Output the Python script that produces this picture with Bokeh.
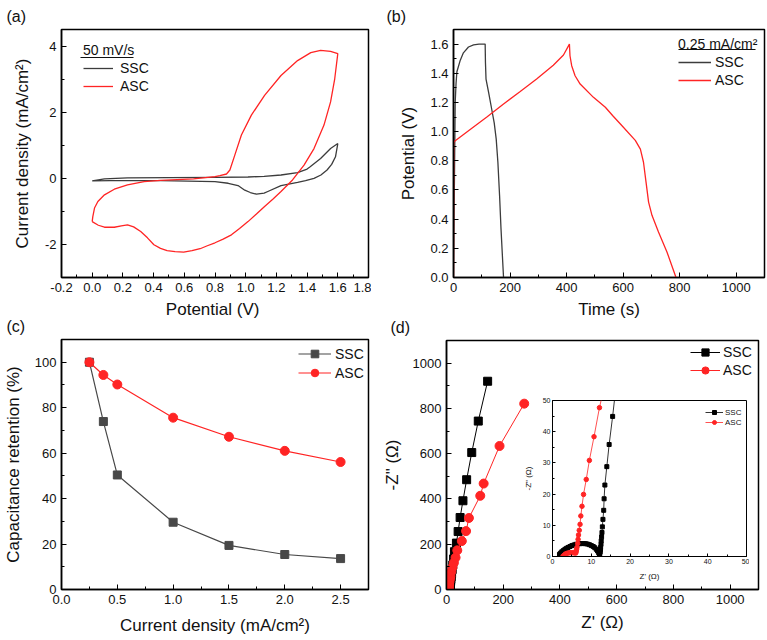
from bokeh.plotting import figure
from bokeh.models import (Range1d, FixedTicker, NumeralTickFormatter, Legend, LegendItem,
                          BoxAnnotation, GridBox)
from bokeh.embed import file_html
from bokeh.resources import INLINE

FONT = "Liberation Sans"
RED = "#ff2424"
GREY = "#3c3c3c"
INK = "#111111"

# ---------------- (a) cyclic voltammetry, 50 mV/s ----------------
cv_ssc_v = [0.00, 0.08, 0.23, 0.50, 0.80, 1.015, 1.12, 1.23, 1.338, 1.40, 1.42, 1.488, 1.553, 1.60,
            1.585, 1.56, 1.53, 1.49, 1.445, 1.39, 1.338, 1.23, 1.144, 1.12, 1.07, 1.03, 0.994, 0.95,
            0.886, 0.80, 0.445, 0.12, 0.00]
cv_ssc_j = [-0.08, -0.02, 0.01, 0.02, 0.03, 0.04, 0.06, 0.10, 0.17, 0.28, 0.35, 0.60, 0.90, 1.05,
            0.65, 0.42, 0.25, 0.10, 0.00, -0.07, -0.12, -0.22, -0.40, -0.45, -0.48, -0.43, -0.36, -0.22,
            -0.15, -0.10, -0.07, -0.07, -0.08]
cv_asc_v = [0.00, 0.04, 0.08, 0.144, 0.19, 0.23, 0.27, 0.316, 0.36, 0.402, 0.445, 0.488, 0.54, 0.596,
            0.65, 0.703, 0.75, 0.80, 0.853, 0.907, 0.96, 1.015, 1.07, 1.123, 1.18, 1.23, 1.305, 1.38,
            1.445, 1.51, 1.553, 1.58, 1.60,
            1.553, 1.488, 1.424, 1.338, 1.23, 1.123, 1.037, 0.972, 0.929, 0.897, 0.875, 0.832, 0.80,
            0.66, 0.445, 0.338, 0.23, 0.144, 0.08, 0.037, 0.015, 0.004, 0.00]
cv_asc_j = [-1.31, -1.42, -1.48, -1.48, -1.44, -1.41, -1.47, -1.61, -1.80, -2.01, -2.12, -2.19, -2.22, -2.23,
            -2.19, -2.13, -2.04, -1.95, -1.84, -1.71, -1.52, -1.31, -1.08, -0.85, -0.62, -0.40, -0.05, 0.40,
            0.90, 1.61, 2.31, 3.01, 3.77,
            3.84, 3.87, 3.80, 3.56, 3.11, 2.51, 1.91, 1.31, 0.70, 0.25, 0.13, 0.08, 0.05,
            -0.02, -0.06, -0.10, -0.20, -0.33, -0.50, -0.70, -0.90, -1.16, -1.31]

# ---------------- (b) galvanostatic charge/discharge, 0.25 mA/cm2 ----------------
gcd_ssc_t = [0, 3, 6, 9, 12, 24, 35, 53, 71, 90, 112, 113, 115, 124, 135, 144, 151, 157, 163, 168, 174, 177]
gcd_ssc_v = [0.0, 0.6, 1.2, 1.33, 1.41, 1.49, 1.54, 1.58, 1.595, 1.60, 1.60, 1.475, 1.36, 1.27, 1.155,
             1.06, 0.95, 0.79, 0.56, 0.335, 0.11, 0.0]
gcd_asc_t = [0, 1, 5, 59, 118, 177, 236, 294, 353, 389, 410, 412, 418, 430, 448, 495, 537, 565, 596,
             643, 661, 672, 681, 690, 702, 725, 755, 787]
gcd_asc_v = [0.0, 0.93, 0.935, 1.015, 1.10, 1.19, 1.275, 1.36, 1.455, 1.525, 1.60, 1.52, 1.452, 1.383,
             1.326, 1.235, 1.167, 1.105, 1.04, 0.94, 0.88, 0.79, 0.654, 0.517, 0.426, 0.312, 0.175, 0.0]

# ---------------- (c) rate capability ----------------
current_density = [0.25, 0.375, 0.5, 1.0, 1.5, 2.0, 2.5]
retention_ssc = [100, 73.9, 50.4, 29.6, 19.4, 15.4, 13.6]
retention_asc = [100, 94.4, 90.2, 75.6, 67.2, 61.0, 56.1]

# ---------------- (d) Nyquist plots ----------------
z_re_ssc = [1.8, 2.1, 2.4, 2.8, 3.2, 3.6, 4.0, 4.5, 5.0, 5.5, 6.0, 6.5, 7.0, 7.5, 8.0, 8.5, 9.0, 9.5,
            10.0, 10.5, 10.9, 11.3, 11.6, 11.9, 12.1,
            12.2, 12.3, 12.35, 12.4, 12.5, 12.55, 12.65, 12.75, 12.85, 13.0, 13.2, 13.3, 13.5, 14.0,
            14.6, 15.5, 16.5, 18.0, 20.0, 22.0, 25, 28, 35, 41, 48, 58, 71, 89, 112, 145]
z_im_ssc = [0.7, 1.1, 1.5, 1.9, 2.3, 2.6, 2.9, 3.2, 3.5, 3.7, 3.9, 4.0, 4.1, 4.15, 4.15, 4.1, 4.0, 3.8,
            3.5, 3.2, 2.8, 2.3, 1.8, 1.2, 0.6,
            0.9, 1.5, 2.2, 2.9, 3.9, 5.0, 6.3, 7.7, 9.5, 11.9, 14.8, 18.5, 22.9, 28.8,
            35.9, 44.9, 56, 70, 88, 108, 135, 167, 205, 256, 318, 392, 485, 605, 744, 920]
z_re_asc = [2.7, 3.0, 3.3, 3.7, 4.1, 4.5, 4.9, 5.3, 5.7, 6.0, 6.1, 6.2, 6.3, 6.5, 6.6, 6.7, 6.9, 7.1,
            7.3, 7.6, 8.0, 8.7, 9.5, 10.7, 12.1, 14, 17, 21, 26, 32, 38, 54, 69, 79, 119, 131, 187, 274]
z_im_asc = [0.1, 0.4, 0.8, 1.0, 1.15, 1.2, 1.2, 1.2, 1.15, 1.1, 1.6, 2.2, 2.9, 4.2, 5.5, 6.9, 8.4, 10.3,
            13.0, 16.1, 19.9, 24.7, 30.8, 38.4, 47.7, 58, 78, 98, 118, 141, 173, 214, 258, 316, 414, 468,
            634, 821]

# ---------------- tick layouts ----------------
a_xticks = [-0.2, 0.0, 0.2, 0.4, 0.6, 0.8, 1.0, 1.2, 1.4, 1.6, 1.8]
a_xminor = [-0.1, 0.1, 0.3, 0.5, 0.7, 0.9, 1.1, 1.3, 1.5, 1.7]
a_yticks = [-2, 0, 2, 4]
a_yminor = [-3, -1, 1, 3]
b_xticks = [0, 200, 400, 600, 800, 1000]
b_xminor = [100, 300, 500, 700, 900, 1100]
b_yticks = [0.0, 0.2, 0.4, 0.6, 0.8, 1.0, 1.2, 1.4, 1.6]
b_yminor = [0.1, 0.3, 0.5, 0.7, 0.9, 1.1, 1.3, 1.5, 1.7]
c_xticks = [0.0, 0.5, 1.0, 1.5, 2.0, 2.5]
c_xminor = [0.25, 0.75, 1.25, 1.75, 2.25, 2.75]
c_yticks = [0, 20, 40, 60, 80, 100]
c_yminor = [10, 30, 50, 70, 90, 110]
d_ticks = [0, 200, 400, 600, 800, 1000]
d_minor = [100, 300, 500, 700, 900, 1100]
i_ticks = [0, 10, 20, 30, 40, 50]
i_minor = [5, 15, 25, 35, 45]

# shared borders: every canvas in a grid row/column gets the same frame offsets
TOP, BOTTOM = 28, 51
LEFT_COL0, LEFT_COL1, RIGHT = 58, 70, 3


def style_axis(ax, ticks, minor, fmt, tick_size, label_size, standoff, label_standoff,
               tick_in=5, minor_in=3, line_w=1.5):
    ax.ticker = FixedTicker(ticks=ticks, minor_ticks=minor)
    ax.formatter = NumeralTickFormatter(format=fmt)
    ax.major_tick_in = tick_in
    ax.major_tick_out = 0
    ax.minor_tick_in = minor_in
    ax.minor_tick_out = 0
    ax.axis_line_width = line_w
    ax.major_tick_line_width = 1
    ax.minor_tick_line_width = 1
    ax.major_label_text_font = FONT
    ax.major_label_text_font_size = tick_size
    ax.major_label_text_color = INK
    ax.major_label_standoff = standoff
    ax.axis_label_text_font = FONT
    ax.axis_label_text_font_size = label_size
    ax.axis_label_text_font_style = "normal"
    ax.axis_label_text_color = INK
    ax.axis_label_standoff = label_standoff


def panel(tag, frame_w, frame_h, left, xr, yr, xlabel, ylabel, xt, xm, xfmt, yt, ym, yfmt,
          x_als=5, y_als=10, tag_x=3, small=False):
    kw = dict(title=tag) if tag else {}
    p = figure(width=left + frame_w + RIGHT, height=TOP + frame_h + BOTTOM,
               x_range=Range1d(*xr), y_range=Range1d(*yr),
               output_backend="svg", toolbar_location=None,
               min_border_left=left, min_border_right=RIGHT,
               min_border_top=TOP, min_border_bottom=BOTTOM, **kw)
    p.border_fill_color = None
    p.background_fill_color = "white" if small else None
    p.outline_line_color = "black"
    p.outline_line_width = 1 if small else 1.5
    p.xgrid.visible = False
    p.ygrid.visible = False
    p.xaxis.axis_label = xlabel
    p.yaxis.axis_label = ylabel
    if small:
        style_axis(p.xaxis[0], xt, xm, xfmt, "7px", "8px", 2, 5, 3, 2, 1)
        style_axis(p.yaxis[0], yt, ym, yfmt, "7px", "8px", 2, 7, 3, 2, 1)
        if p.title is not None:
            p.title.visible = False
    else:
        style_axis(p.xaxis[0], xt, xm, xfmt, "13px", "17px", 5, x_als)
        style_axis(p.yaxis[0], yt, ym, yfmt, "13px", "17px", 5, y_als)
        p.title.text_font = FONT
        p.title.text_font_size = "16px"
        p.title.text_font_style = "normal"
        p.title.text_color = INK
        p.title.align = "left"
        p.title.offset = -tag_x
        p.title.standoff = 10
    return p


def legend(p, items, vx, vy, title=None, glyph_w=30, glyph_h=14, standoff=5, spacing=2,
           size="14px"):
    leg = Legend(items=items, location=(vx, vy), padding=0, margin=0, spacing=spacing,
                 glyph_width=glyph_w, glyph_height=glyph_h, label_height=glyph_h,
                 label_standoff=standoff, label_text_font=FONT, label_text_font_size=size,
                 label_text_color=INK, background_fill_alpha=0, border_line_color=None)
    if title:
        leg.title = title
        leg.title_text_font = FONT
        leg.title_text_font_size = size
        leg.title_text_font_style = "normal"
        leg.title_text_color = INK
        leg.title_standoff = 2
    p.add_layout(leg)


def underline(p, left, right, y):
    p.add_layout(BoxAnnotation(left=left, right=right, top=y - 0.6, bottom=y + 0.6,
                               left_units="canvas", right_units="canvas",
                               top_units="canvas", bottom_units="canvas",
                               fill_color=INK, fill_alpha=1, line_color=None))


# (a)
pa = panel("(a)", 310, 249, LEFT_COL0, (-0.2, 1.8), (-3, 4.5),
           "Potential  (V)", "Current density (mA/cm²)",
           a_xticks, a_xminor, "0.0", a_yticks, a_yminor, "0", x_als=5, y_als=10, tag_x=55)
ra1 = pa.line(cv_ssc_v, cv_ssc_j, line_color=GREY, line_width=1.3)
ra2 = pa.line(cv_asc_v, cv_asc_j, line_color=RED, line_width=1.3)
legend(pa, [LegendItem(label="SSC", renderers=[ra1]), LegendItem(label="ASC", renderers=[ra2])],
       22, 183, title="50 mV/s", glyph_w=30, standoff=7)
underline(pa, 80, 133, 57)

# (b)
pb = panel("(b)", 311, 249, LEFT_COL1, (0, 1100), (0, 1.7),
           "Time (s)", "Potential (V)",
           b_xticks, b_xminor, "0", b_yticks, b_yminor, "0.0", x_als=5, y_als=9, tag_x=67)
rb1 = pb.line(gcd_ssc_t, gcd_ssc_v, line_color=GREY, line_width=1.3)
rb2 = pb.line(gcd_asc_t, gcd_asc_v, line_color=RED, line_width=1.3)
legend(pb, [LegendItem(label="SSC", renderers=[rb1]), LegendItem(label="ASC", renderers=[rb2])],
       225, 189, title="0.25 mA/cm²", glyph_w=33, standoff=4)
underline(pb, 295, 372, 49)

# (c)
pc = panel("(c)", 310, 251, LEFT_COL0, (0, 2.75), (0, 110),
           "Current density (mA/cm²)", "Capacitance retention (%)",
           c_xticks, c_xminor, "0.0", c_yticks, c_yminor, "0", x_als=9, y_als=9, tag_x=55)
rc1 = pc.line(current_density, retention_ssc, line_color="#484848", line_width=1.2)
rc1m = pc.scatter(current_density, retention_ssc, marker="square", size=8,
                  fill_color="#484848", line_color="#484848")
rc2 = pc.line(current_density, retention_asc, line_color=RED, line_width=1.2)
rc2m = pc.scatter(current_density, retention_asc, marker="circle", size=9,
                  fill_color=RED, line_color=RED)
legend(pc, [LegendItem(label="SSC", renderers=[rc1, rc1m]),
            LegendItem(label="ASC", renderers=[rc2, rc2m])],
       237, 207, glyph_w=33, glyph_h=19, standoff=4, spacing=0)

# (d)
pd_ = panel("(d)", 312, 250, LEFT_COL1, (0, 1100), (0, 1100),
            "Z' (Ω)", '-Z" (Ω)',
            d_ticks, d_minor, "0", d_ticks, d_minor, "0", x_als=6, y_als=8, tag_x=56)
rd1 = pd_.line(z_re_ssc, z_im_ssc, line_color="black", line_width=1)
rd1m = pd_.scatter(z_re_ssc, z_im_ssc, marker="square", size=8, fill_color="black",
                   line_color="black")
rd2 = pd_.line(z_re_asc, z_im_asc, line_color=RED, line_width=1)
rd2m = pd_.scatter(z_re_asc, z_im_asc, marker="circle", size=9, fill_color=RED, line_color=RED)
legend(pd_, [LegendItem(label="SSC", renderers=[rd1, rd1m]),
             LegendItem(label="ASC", renderers=[rd2, rd2m])],
       244, 210, glyph_w=30, glyph_h=18, standoff=3, spacing=0)

# inset: high-frequency region of the Nyquist plot
pi = panel(None, 194, 157, LEFT_COL1, (0, 50), (0, 50),
           "Z' (Ω)", '-Z" (Ω)', i_ticks, i_minor, "0", i_ticks, i_minor, "0", small=True)
ri1 = pi.line(z_re_ssc, z_im_ssc, line_color="black", line_width=0.8)
ri1m = pi.scatter(z_re_ssc, z_im_ssc, marker="square", size=4, fill_color="black",
                  line_color="black")
ri2 = pi.line(z_re_asc, z_im_asc, line_color=RED, line_width=0.8)
ri2m = pi.scatter(z_re_asc, z_im_asc, marker="circle", size=4.5, fill_color=RED, line_color=RED)
legend(pi, [LegendItem(label="SSC", renderers=[ri1, ri1m]),
            LegendItem(label="ASC", renderers=[ri2, ri2m])],
       153, 129, glyph_w=18, glyph_h=10, standoff=2, spacing=0, size="8px")

# column 0 holds (a) and (c); column 1 (starting at x=371) holds (b), (d) and the inset
pa.margin = (0, 0, 0, 0)
pc.margin = (310, 0, 0, 0)
pb.margin = (0, 0, 0, 12)
pd_.margin = (311, 0, 0, 5)
pi.margin = (371, 0, 0, 111)

layout = GridBox(children=[(pa, 0, 0), (pc, 0, 0), (pb, 0, 1), (pd_, 0, 1), (pi, 0, 1)])

open("out.html", "w").write(file_html(layout, INLINE))
